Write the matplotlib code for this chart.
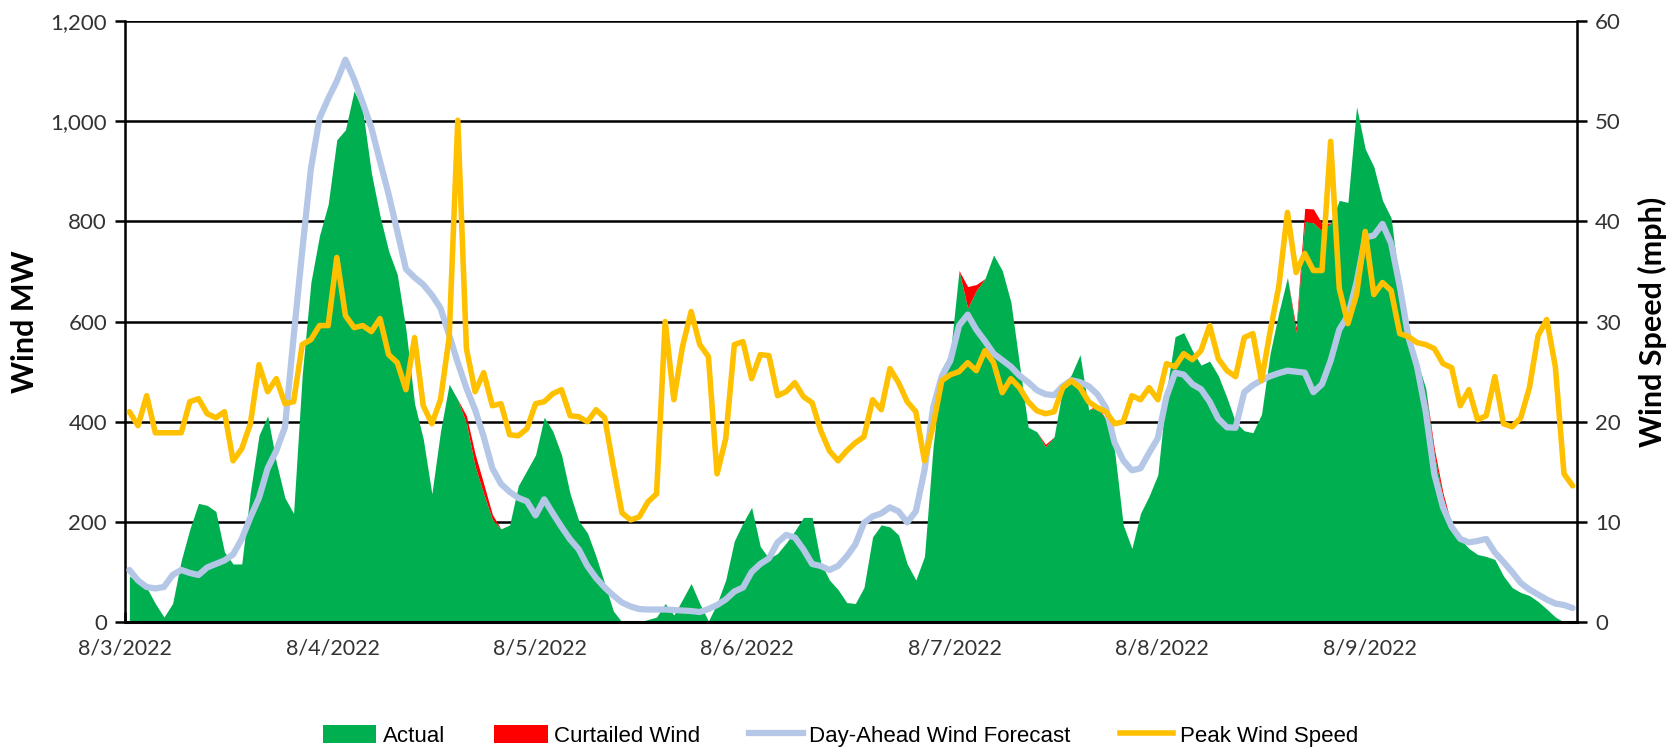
import numpy as np
import matplotlib
matplotlib.use("Agg")
import matplotlib.pyplot as plt
from matplotlib.patches import Patch
from matplotlib.lines import Line2D

# ---- data (hourly, 8/3/2022 00:00 .. 8/9/2022 23:00) ----
day_labels = ["8/3/2022", "8/4/2022", "8/5/2022", "8/6/2022", "8/7/2022", "8/8/2022", "8/9/2022"]

actual_mw = [
    92, 80, 69, 37, 10, 37, 123, 186, 237, 233, 221, 140, 116, 116, 260, 373, 412, 319, 248, 217, 494, 678, 772, 834,
    963, 983, 1061, 1022, 897, 811, 741, 694, 584, 436, 366, 256, 381, 475, 444, 397, 311, 256, 205, 186, 194, 272, 303, 334,
    409, 381, 334, 256, 202, 178, 131, 77, 22, 0, 0, 0, 5, 10, 37, 14, 45, 77, 37, 2, 37, 84, 162, 198,
    229, 151, 127, 137, 158, 182, 209, 209, 119, 84, 65, 39, 37, 69, 170, 194, 190, 174, 116, 84, 131, 350, 506, 537,
    702, 627, 662, 686, 733, 702, 639, 514, 389, 380, 350, 370, 467, 494, 534, 424, 428, 405, 342, 194, 147, 217, 252, 294,
    460, 570, 578, 542, 513, 521, 492, 448, 399, 382, 378, 415, 537, 618, 688, 578, 801, 797, 781, 797, 842, 838, 1029, 945,
    909, 842, 807, 670, 577, 522, 467, 334, 248, 194, 166, 147, 135, 131, 125, 92, 69, 59, 53, 41, 26, 10, 0, 0,
]

curtailed_mw = [
    0, 0, 0, 0, 0, 0, 0, 0, 0, 0, 0, 0, 0, 0, 0, 0, 0, 0, 0, 0, 0, 0, 0, 0,
    0, 0, 0, 0, 0, 0, 0, 0, 0, 0, 0, 0, 0, 0, 0, 15, 25, 20, 10, 0, 0, 0, 0, 0,
    0, 0, 0, 0, 0, 0, 0, 0, 0, 0, 0, 0, 0, 0, 0, 0, 0, 0, 0, 0, 0, 0, 0, 0,
    0, 0, 0, 0, 0, 0, 0, 0, 0, 0, 0, 0, 0, 0, 0, 0, 0, 0, 0, 0, 0, 0, 0, 0,
    0, 43, 12, 0, 0, 0, 0, 0, 0, 0, 5, 0, 0, 0, 0, 0, 5, 0, 0, 0, 0, 0, 0, 0,
    0, 0, 0, 0, 0, 0, 0, 0, 0, 0, 0, 0, 0, 0, 0, 10, 25, 28, 15, 0, 0, 0, 0, 0,
    0, 0, 0, 0, 0, 0, 0, 12, 10, 0, 0, 0, 0, 0, 0, 0, 0, 0, 0, 0, 0, 0, 0, 0,
]

forecast_mw = [
    104, 83, 70, 67, 70, 94, 104, 98, 94, 109, 116, 123, 135, 166, 209, 248, 307, 342, 389, 569, 741, 905, 1006, 1045,
    1080, 1123, 1084, 1037, 987, 920, 854, 780, 705, 688, 674, 653, 627, 573, 518, 467, 424, 370, 307, 276, 260, 248, 241, 213,
    245, 217, 190, 165, 145, 112, 88, 69, 53, 39, 31, 26, 25, 25, 25, 24, 23, 22, 20, 26, 34, 45, 61, 69,
    100, 116, 127, 159, 174, 169, 145, 116, 112, 104, 112, 131, 155, 198, 211, 217, 229, 221, 199, 221, 303, 428, 491, 522,
    592, 614, 584, 561, 536, 523, 510, 492, 479, 463, 455, 453, 471, 483, 479, 471, 455, 428, 358, 323, 303, 307, 338, 367,
    450, 498, 494, 475, 465, 440, 406, 389, 388, 459, 473, 483, 491, 497, 502, 500, 498, 459, 475, 522, 584, 612, 678, 768,
    772, 795, 756, 670, 569, 510, 420, 295, 229, 190, 166, 159, 162, 166, 139, 120, 100, 78, 65, 55, 45, 37, 34, 28,
]

peak_wind_mph = [
    21.0, 19.6, 22.6, 18.9, 18.9, 18.9, 18.9, 22.0, 22.3, 20.8, 20.4, 21.0, 16.1, 17.3, 19.8, 25.7, 23.0, 24.3, 21.8, 22.0, 27.7, 28.2, 29.6, 29.6,
    36.4, 30.6, 29.4, 29.6, 29.0, 30.3, 26.7, 25.9, 23.2, 28.4, 21.6, 19.8, 22.2, 28.4, 50.1, 27.3, 23.0, 24.9, 21.6, 21.8, 18.7, 18.6, 19.3, 21.8,
    22.0, 22.8, 23.2, 20.6, 20.5, 20.0, 21.2, 20.4, 15.5, 10.9, 10.2, 10.5, 12.0, 12.8, 30.0, 22.2, 27.5, 31.0, 27.7, 26.5, 14.8, 18.3, 27.7, 28.0,
    24.3, 26.7, 26.6, 22.6, 23.0, 23.9, 22.5, 21.9, 19.1, 17.1, 16.1, 17.1, 17.9, 18.5, 22.2, 21.2, 25.3, 23.9, 22.0, 21.0, 16.1, 19.6, 24.1, 24.7,
    25.0, 25.9, 25.1, 27.1, 25.9, 22.9, 24.3, 23.4, 22.0, 21.1, 20.8, 21.0, 23.4, 24.1, 23.4, 22.0, 21.4, 21.0, 19.8, 20.0, 22.6, 22.2, 23.4, 22.2,
    25.8, 25.5, 26.8, 26.2, 27.1, 29.6, 26.3, 25.1, 24.5, 28.4, 28.8, 24.1, 29.0, 33.5, 40.9, 34.9, 36.8, 35.1, 35.1, 48.0, 33.3, 29.8, 32.7, 39.0,
    32.7, 33.9, 33.1, 28.8, 28.5, 27.9, 27.7, 27.3, 25.8, 25.4, 21.6, 23.2, 20.2, 20.6, 24.5, 19.8, 19.5, 20.4, 23.4, 28.6, 30.2, 25.5, 14.8, 13.6,
]

mw_ticks = [0, 200, 400, 600, 800, 1000, 1200]
mph_ticks = [0, 10, 20, 30, 40, 50, 60]

# ---- styling ----
GREEN = "#00B050"
RED = "#FF0000"
BLUE = "#B4C7E7"
YELLOW = "#FFC000"
TXT = "#333333"
TICKFONT = "Lato"
LEGFONT = ["Liberation Sans Narrow", "Liberation Sans"]

actual = np.array(actual_mw, dtype=float)
curt = np.array(curtailed_mw, dtype=float)
fc = np.array(forecast_mw, dtype=float)
ws = np.array(peak_wind_mph, dtype=float)
n = len(actual)
x = np.arange(n) + 0.5

fig = plt.figure(figsize=(16.81, 7.54), dpi=100)
ax = fig.add_axes([0.0744, 0.175, 0.8637, 0.797])

ax.fill_between(x, 0, actual, color=GREEN, lw=0, zorder=2)
ax.fill_between(x, actual, actual + curt, color=RED, lw=0, zorder=2)
ax.plot(x, fc, color=BLUE, lw=4.5, solid_joinstyle="round", solid_capstyle="round", zorder=3)

ax.set_xlim(0, n)
ax.set_ylim(0, 1200)
ax.set_yticks(mw_ticks)
ax.set_yticklabels([f"{v:,}" for v in mw_ticks])
ax.set_xticks(np.arange(len(day_labels)) * 24)
ax.set_xticklabels(day_labels)
ax.yaxis.grid(True, color="black", lw=1.8)
ax.set_axisbelow(True)

ax.spines["top"].set_visible(False)
ax.spines["left"].set_linewidth(1.8)
ax.spines["bottom"].set_linewidth(2.2)
ax.spines["right"].set_visible(False)

ax.tick_params(axis="y", direction="out", length=7, width=1.8, colors="black",
               labelcolor=TXT, labelsize=16, pad=6)
ax.tick_params(axis="x", direction="in", length=7, width=1.8, colors="black",
               labelcolor=TXT, labelsize=15.5, pad=12)
for lab in ax.get_xticklabels() + ax.get_yticklabels():
    lab.set_fontfamily(TICKFONT)

ax.set_ylabel("Wind MW", fontsize=22, fontweight="bold", fontfamily=TICKFONT,
              color="black", labelpad=8)

ax2 = ax.twinx()
ax2.plot(x, ws, color=YELLOW, lw=4, solid_joinstyle="round", solid_capstyle="round", zorder=4)
ax2.set_ylim(0, 60)
ax2.set_yticks(mph_ticks)
ax2.spines["top"].set_visible(False)
ax2.spines["left"].set_visible(False)
ax2.spines["bottom"].set_visible(False)
ax2.spines["right"].set_linewidth(1.8)
ax2.tick_params(axis="y", direction="out", length=7, width=1.8, colors="black",
                labelcolor=TXT, labelsize=16, pad=6)
for lab in ax2.get_yticklabels():
    lab.set_fontfamily(TICKFONT)
ax2.set_ylabel("Wind Speed (mph)", fontsize=22, fontweight="bold", fontfamily=TICKFONT,
               color="black", labelpad=12)

handles = [
    Patch(facecolor=GREEN, edgecolor="none"),
    Patch(facecolor=RED, edgecolor="none"),
    Line2D([0], [0], color=BLUE, lw=4.5),
    Line2D([0], [0], color=YELLOW, lw=4),
]
labels = ["Actual", "Curtailed Wind", "Day-Ahead Wind Forecast", "Peak Wind Speed"]
fig.legend(handles, labels, loc="center", bbox_to_anchor=(0.5, 0.024), ncol=4,
           frameon=False, prop={"family": LEGFONT, "size": 16},
           handlelength=2.4, handleheight=0.9, handletextpad=0.3, columnspacing=2.2)

fig.savefig("out.png", dpi=100)
